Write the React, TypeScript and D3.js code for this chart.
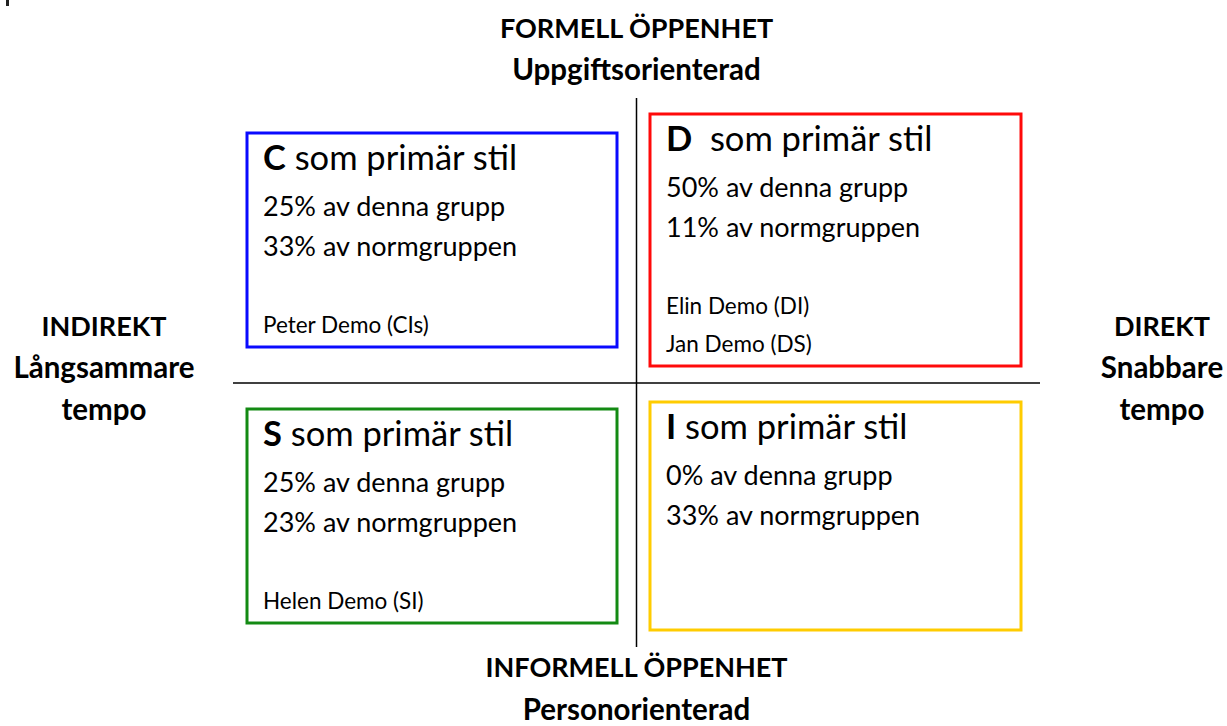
import React from 'react';
import * as d3 from 'd3';

// Quadrant data (order: C, D, S, I)
const styles = ['C', 'D', 'S', 'I'];
const groupPct = [25, 50, 25, 0];
const normPct = [33, 11, 23, 33];
const people = [['Peter Demo (CIs)'], ['Elin Demo (DI)', 'Jan Demo (DS)'], ['Helen Demo (SI)'], []];
const boxColors = ['#0a0aff', '#ff0a0a', '#138a13', '#ffcc00'];

const topLabels = ['FORMELL ÖPPENHET', 'Uppgiftsorienterad'];
const bottomLabels = ['INFORMELL ÖPPENHET', 'Personorienterad'];
const leftLabels = ['INDIREKT', 'Långsammare', 'tempo'];
const rightLabels = ['DIREKT', 'Snabbare', 'tempo'];

const W = 1227, H = 726;
const FONT = "Lato, 'Open Sans', sans-serif";

// caps lines render a bit wider in Lato than lowercase ones
const labelSize = (t: string) => (t === t.toUpperCase() ? 27 : 29.5);

const App = () => {
    // quadrant axes: x from indirect (-1) to direct (+1), y from informal (-1) to formal (+1)
    const x = d3.scaleLinear().domain([-1, 1]).range([233, 1040]);
    const y = d3.scaleLinear().domain([-1, 1]).range([647, 98]);
    const cx = x(0), cy = 383;

    // box extents for each quadrant
    const boxes = [
        { x0: 247, x1: 617, y0: 133, y1: 347 },
        { x0: 650, x1: 1021, y0: 114, y1: 366 },
        { x0: 247, x1: 617, y0: 409, y1: 623 },
        { x0: 650, x1: 1021, y0: 402, y1: 630 },
    ];

    return (
        <svg width={W} height={H} style={{ position: 'absolute', left: 0, top: 0 }} fontFamily={FONT}>
            <rect x={6} y={0} width={3} height={6} fill="#222" />
            <line x1={cx} x2={cx} y1={y(1)} y2={y(-1)} stroke="#000" strokeWidth={1.5} />
            <line x1={x(-1)} x2={x(1)} y1={cy} y2={cy} stroke="#000" strokeWidth={1.5} />

            {topLabels.map((t, i) => (
                <text key={t} x={cx} y={38 + i * 42} textAnchor="middle" fontWeight="bold" fontSize={labelSize(t)}>{t}</text>
            ))}
            {bottomLabels.map((t, i) => (
                <text key={t} x={cx} y={677 + i * 43} textAnchor="middle" fontWeight="bold" fontSize={labelSize(t)}>{t}</text>
            ))}
            {leftLabels.map((t, i) => (
                <text key={t} x={104} y={336 + i * 42} textAnchor="middle" fontWeight="bold" fontSize={labelSize(t)}>{t}</text>
            ))}
            {rightLabels.map((t, i) => (
                <text key={t + 'r'} x={1162} y={336 + i * 42} textAnchor="middle" fontWeight="bold" fontSize={labelSize(t)}>{t}</text>
            ))}

            {styles.map((s, i) => {
                const b = boxes[i];
                const tx = b.x0 + 16;
                const top = b.y0 + 37;
                const bottomBase = b.y1 - 14;
                return (
                    <g key={s}>
                        <rect x={b.x0} y={b.y0} width={b.x1 - b.x0} height={b.y1 - b.y0}
                            fill="none" stroke={boxColors[i]} strokeWidth={3} />
                        <text x={tx} y={top} fontSize={34.5}>
                            <tspan fontWeight="bold">{s}</tspan>
                            <tspan>{s === 'D' ? '\u00a0 som primär stil' : ' som primär stil'}</tspan>
                        </text>
                        <text x={tx} y={top + 46} fontSize={27}>{groupPct[i]}% av denna grupp</text>
                        <text x={tx} y={top + 86} fontSize={27}>{normPct[i]}% av normgruppen</text>
                        {people[i].map((p, j) => (
                            <text key={p} x={tx} y={bottomBase - (people[i].length - 1 - j) * 38} fontSize={22.5}>{p}</text>
                        ))}
                    </g>
                );
            })}
        </svg>
    );
};

export default App;
